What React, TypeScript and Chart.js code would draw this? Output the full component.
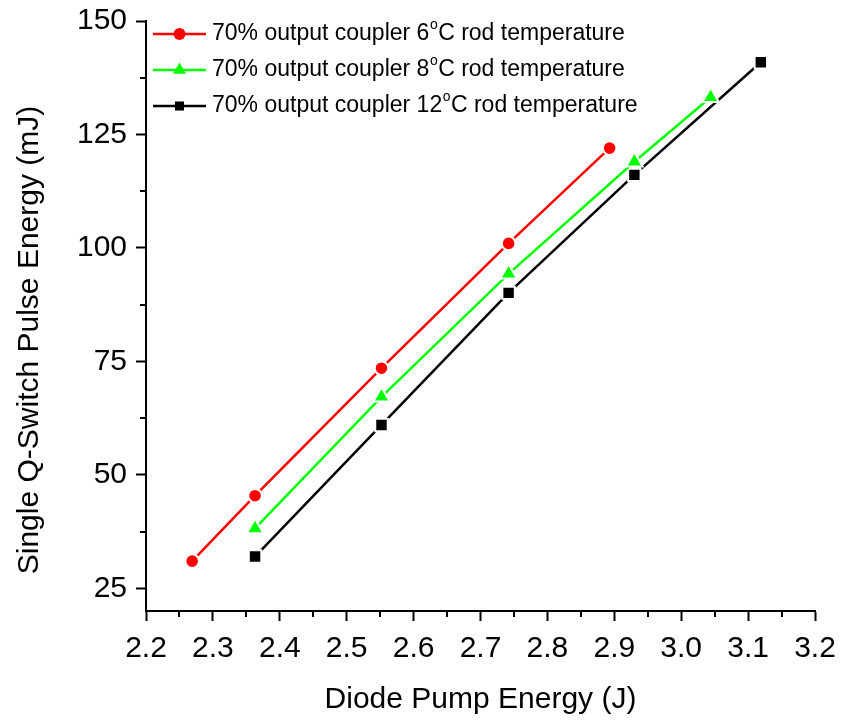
import React, { useEffect, useRef } from "react";
import { Chart, registerables } from "chart.js";

Chart.register(...registerables);

// ---- data ----
const xTickValues = [2.2, 2.3, 2.4, 2.5, 2.6, 2.7, 2.8, 2.9, 3.0, 3.1, 3.2];
const yTickValues = [25, 50, 75, 100, 125, 150];
const xRange = [2.2, 3.2];
const yRange = [20, 150];

const rodTemperatures = ["6", "8", "12"];

const pump6C = [2.269, 2.363, 2.552, 2.742, 2.893];
const pulse6C = [31, 45.4, 73.5, 101, 122];

const pump8C = [2.363, 2.552, 2.742, 2.93, 3.044];
const pulse8C = [38.2, 67.2, 94.3, 119, 133.2];

const pump12C = [2.363, 2.552, 2.742, 2.93, 3.119];
const pulse12C = [32, 61, 90.1, 116.1, 140.9];

const xTitle = "Diode Pump Energy (J)";
const yTitle = "Single Q-Switch Pulse Energy (mJ)";

// ---- styles ----
const FONT = "'Liberation Sans', Arial, Helvetica, sans-serif";
const seriesColors = ["#ff0000", "#00ff00", "#000000"];
const seriesStyles = ["circle", "triangle", "rect"];
const seriesRadius = [6.8, 9.6, 8.8];

function drawMarker(ctx: CanvasRenderingContext2D, style: string, x: number, y: number, r: number, color: string) {
  ctx.fillStyle = color;
  ctx.beginPath();
  if (style === "circle") {
    ctx.arc(x, y, r, 0, Math.PI * 2);
  } else if (style === "triangle") {
    const h = Math.PI * 2 / 3;
    let a = 0;
    ctx.moveTo(x + Math.sin(a) * r, y - Math.cos(a) * r);
    a += h;
    ctx.lineTo(x + Math.sin(a) * r, y - Math.cos(a) * r);
    a += h;
    ctx.lineTo(x + Math.sin(a) * r, y - Math.cos(a) * r);
    ctx.closePath();
  } else {
    const s = r * Math.SQRT1_2;
    ctx.rect(x - s, y - s, 2 * s, 2 * s);
  }
  ctx.fill();
}

const decorPlugin = {
  id: "decor",
  afterDraw(chart: any) {
    const ctx: CanvasRenderingContext2D = chart.ctx;
    const xs = chart.scales.x;
    const ys = chart.scales.y;
    const area = chart.chartArea;
    ctx.save();
    ctx.strokeStyle = "#000";
    ctx.lineWidth = 2;
    // minor ticks
    for (let i = 0; i < xTickValues.length - 1; i++) {
      const v = (xTickValues[i] + xTickValues[i + 1]) / 2;
      const px = Math.round(xs.getPixelForValue(v));
      ctx.beginPath();
      ctx.moveTo(px, area.bottom);
      ctx.lineTo(px, area.bottom + 6);
      ctx.stroke();
    }
    for (let i = 0; i < yTickValues.length - 1; i++) {
      const v = (yTickValues[i] + yTickValues[i + 1]) / 2;
      const py = Math.round(ys.getPixelForValue(v));
      ctx.beginPath();
      ctx.moveTo(area.left, py);
      ctx.lineTo(area.left - 6, py);
      ctx.stroke();
    }
    // y title
    ctx.save();
    ctx.translate(30, 340);
    ctx.rotate(-Math.PI / 2);
    ctx.fillStyle = "#000";
    ctx.font = `30px ${FONT}`;
    ctx.textAlign = "center";
    ctx.textBaseline = "middle";
    ctx.fillText(yTitle, 0, 0);
    ctx.restore();

    // legend
    const x0 = area.left + 7;
    const lineLen = 53;
    const textX = area.left + 66;
    for (let i = 0; i < rodTemperatures.length; i++) {
      const cy = area.top + 13 + 36 * i;
      ctx.strokeStyle = seriesColors[i];
      ctx.lineWidth = 2.5;
      ctx.beginPath();
      ctx.moveTo(x0, cy);
      ctx.lineTo(x0 + lineLen, cy);
      ctx.stroke();
      const legR = seriesStyles[i] === "rect" ? 6.4 : seriesStyles[i] === "triangle" ? 7.5 : 6;
      drawMarker(ctx, seriesStyles[i], x0 + lineLen / 2, cy, legR, seriesColors[i]);

      ctx.fillStyle = "#000";
      ctx.textBaseline = "middle";
      ctx.textAlign = "left";
      ctx.font = `23px ${FONT}`;
      const pre = `70% output coupler ${rodTemperatures[i]}`;
      ctx.fillText(pre, textX, cy);
      let tx = textX + ctx.measureText(pre).width;
      ctx.font = `14px ${FONT}`;
      ctx.fillText("o", tx + 0.5, cy - 9);
      tx += ctx.measureText("o").width + 1;
      ctx.font = `23px ${FONT}`;
      ctx.fillText("C rod temperature", tx, cy);
    }
    ctx.restore();
  },
};

function makeDataset(xsArr: number[], ysArr: number[], i: number) {
  return {
    label: `70% output coupler ${rodTemperatures[i]}°C rod temperature`,
    data: xsArr.map((x, k) => ({ x, y: ysArr[k] })),
    borderColor: seriesColors[i],
    backgroundColor: seriesColors[i],
    pointStyle: seriesStyles[i],
    pointRadius: seriesRadius[i],
    pointBorderColor: "#ffffff",
    pointBorderWidth: 2,
    borderWidth: 2.5,
    showLine: true,
    tension: 0,
  };
}

export default function App() {
  const canvasRef = useRef<HTMLCanvasElement | null>(null);

  useEffect(() => {
    if (!canvasRef.current) return;
    const chart = new Chart(canvasRef.current, {
      type: "scatter",
      data: {
        datasets: [
          makeDataset(pump6C, pulse6C, 0),
          makeDataset(pump8C, pulse8C, 1),
          makeDataset(pump12C, pulse12C, 2),
        ],
      },
      options: {
        responsive: false,
        animation: false,
        layout: { padding: { left: 0, top: 21, right: 26, bottom: 0 } },
        plugins: {
          legend: { display: false },
          tooltip: { enabled: false },
        },
        scales: {
          x: {
            type: "linear",
            min: xRange[0],
            max: xRange[1],
            afterBuildTicks: (scale: any) => {
              scale.ticks = xTickValues.map((v) => ({ value: v }));
            },
            afterFit: (scale: any) => {
              scale.height = 109;
            },
            ticks: {
              color: "#000",
              font: { family: FONT, size: 30, lineHeight: 1.7 },
              padding: 2,
              maxRotation: 0,
              autoSkip: false,
              callback: (v: any) => Number(v).toFixed(1),
            },
            grid: {
              drawOnChartArea: false,
              drawTicks: true,
              tickLength: 10,
              tickWidth: 2,
              tickColor: "#000",
            },
            border: { display: true, color: "#000", width: 2 },
            title: {
              display: true,
              text: xTitle,
              color: "#000",
              font: { family: FONT, size: 30 },
              padding: { top: 0, bottom: 2 },
            },
          },
          y: {
            type: "linear",
            min: yRange[0],
            max: yRange[1],
            afterBuildTicks: (scale: any) => {
              scale.ticks = yTickValues.map((v) => ({ value: v }));
            },
            afterFit: (scale: any) => {
              scale.width = 146;
            },
            ticks: {
              color: "#000",
              font: { family: FONT, size: 30, lineHeight: 0.6 },
              padding: 9,
              autoSkip: false,
              callback: (v: any) => String(v),
            },
            grid: {
              drawOnChartArea: false,
              drawTicks: true,
              tickLength: 10,
              tickWidth: 2,
              tickColor: "#000",
            },
            border: { display: true, color: "#000", width: 2 },
            title: { display: false },
          },
        },
      },
      plugins: [decorPlugin],
    } as any);
    return () => chart.destroy();
  }, []);

  return (
    <div style={{ position: "fixed", left: 0, top: 0, width: 841, height: 720, background: "#fff" }}>
      <canvas ref={canvasRef} width={841} height={720} style={{ display: "block" }} />
    </div>
  );
}
